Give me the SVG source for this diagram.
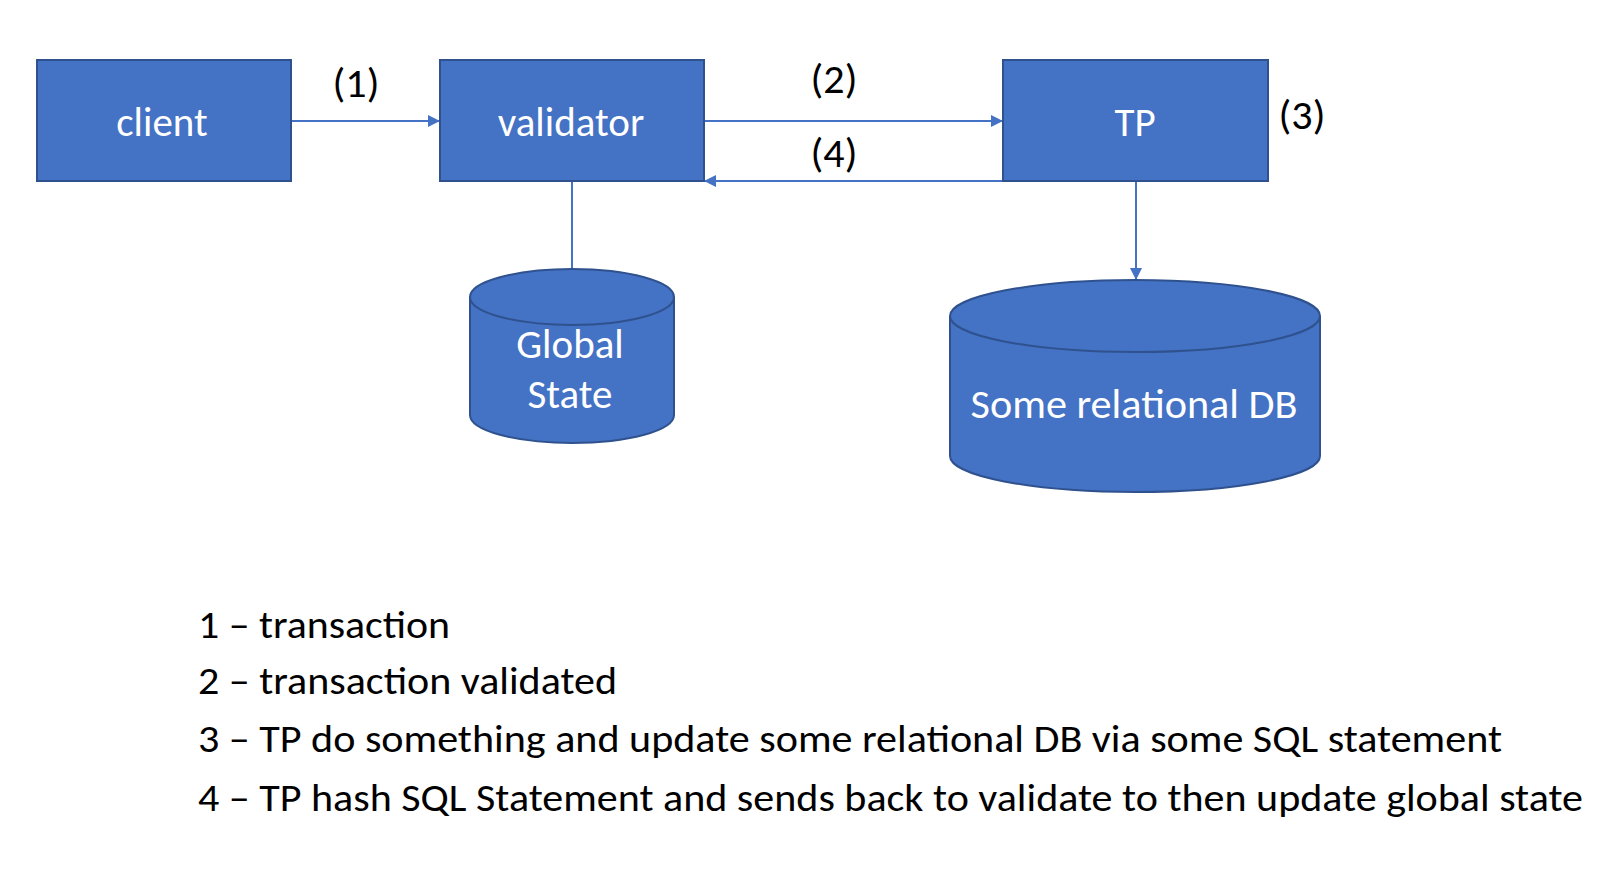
<svg xmlns="http://www.w3.org/2000/svg" width="1622" height="872" viewBox="0 0 1622 872">
<style>
.box{fill:#4472C4;stroke:#2F528F;stroke-width:2}
.lbl{font-family:Carlito,"Open Sans","Noto Sans",sans-serif;fill:#fff;font-size:41px;text-anchor:middle}
.num{font-family:Carlito,"Open Sans","Noto Sans",sans-serif;fill:#000;font-size:42px;text-anchor:middle}
.leg{font-family:Carlito,"Open Sans","Noto Sans",sans-serif;fill:#000;font-size:39px}
.ln{stroke:#4472C4;stroke-width:2;fill:none}
</style>
<defs>
<marker id="ah" viewBox="0 0 10 10" refX="10" refY="5" markerWidth="6" markerHeight="6" orient="auto" markerUnits="strokeWidth">
<path d="M0,0 L10,5 L0,10 Z" fill="#4472C4"/>
</marker>
</defs>
<rect width="1622" height="872" fill="#fff"/>
<g id="connectors">
<line class="ln" x1="291" y1="121" x2="440" y2="121" marker-end="url(#ah)"/>
<line class="ln" x1="704" y1="121" x2="1003" y2="121" marker-end="url(#ah)"/>
<line class="ln" x1="1003" y1="181" x2="704" y2="181" marker-end="url(#ah)"/>
<line class="ln" x1="572" y1="181" x2="572" y2="269"/>
<line class="ln" x1="1136" y1="181" x2="1136" y2="280" marker-end="url(#ah)"/>
<text class="num" x="356" y="97">(1)</text>
<text class="num" x="834" y="93">(2)</text>
<text class="num" x="834" y="167">(4)</text>
<text class="num" x="1302" y="129">(3)</text>
</g>
<g id="client">
<rect class="box" x="37" y="60" width="254" height="121"/>
<text class="lbl" x="162" y="136">client</text>
</g>
<g id="validator">
<rect class="box" x="440" y="60" width="264" height="121"/>
<text class="lbl" x="571" y="136">validator</text>
</g>
<g id="tp">
<rect class="box" x="1003" y="60" width="265" height="121"/>
<text class="lbl" x="1135" y="136">TP</text>
</g>
<g id="global-state">
<path class="box" d="M470,297 A102,28 0 0 1 674,297 L674,415 A102,28 0 0 1 470,415 Z"/>
<path class="box" d="M470,297 A102,28 0 0 0 674,297" fill="none"/>
<text class="lbl" x="570" y="358">Global</text>
<text class="lbl" x="570" y="408">State</text>
</g>
<g id="relational-db">
<path class="box" d="M950,316 A185,36 0 0 1 1320,316 L1320,456 A185,36 0 0 1 950,456 Z"/>
<path class="box" d="M950,316 A185,36 0 0 0 1320,316" fill="none"/>
<text class="lbl" x="1134" y="418" textLength="327" lengthAdjust="spacingAndGlyphs">Some relational DB</text>
</g>
<g id="legend">
<text class="leg" x="198" y="638" textLength="252" lengthAdjust="spacingAndGlyphs">1 – transaction</text>
<text class="leg" x="198" y="694" textLength="419" lengthAdjust="spacingAndGlyphs">2 – transaction validated</text>
<text class="leg" x="198" y="752" textLength="1304" lengthAdjust="spacingAndGlyphs">3 – TP do something and update some relational DB via some SQL statement</text>
<text class="leg" x="198" y="811" textLength="1385" lengthAdjust="spacingAndGlyphs">4 – TP hash SQL Statement and sends back to validate to then update global state</text>
</g>
</svg>
